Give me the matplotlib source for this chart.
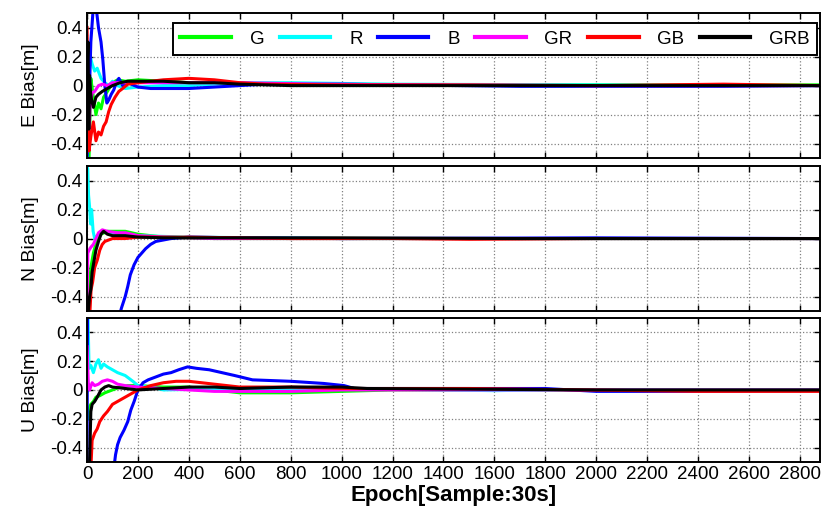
import matplotlib
matplotlib.use("Agg")
import matplotlib.pyplot as plt

plt.rcParams['font.family'] = ['Liberation Sans', 'DejaVu Sans']
plt.rcParams['axes.unicode_minus'] = False

nan = float('nan')

labels = ['G', 'R', 'B', 'GR', 'GB', 'GRB']
colors = ['#00ff00', '#00ffff', '#0000ff', '#ff00ff', '#ff0000', '#000000']
panel_names = ['E Bias[m]', 'N Bias[m]', 'U Bias[m]']

# E component: (epoch, bias) points
E_G_t = [0, 8, 15, 25, 35, 45, 55, 65, 80, 100, 120, 150, 200, 300, 400, 600, 800, 1200, 2000, 2880]
E_G_v = [-0.5, -0.5, 0.05, -0.08, -0.2, -0.12, -0.16, -0.08, -0.04, 0.02, 0.04, 0.03, 0.04, 0.03, 0.02, 0.01, 0.01, 0.005, 0.005, 0.005]
E_R_t = [0, 5, 10, 20, 30, 40, 55, 70, 85, 100, 120, 150, 200, 300, 400, 600, 800, 1200, 2000, 2880]
E_R_v = [-0.5, 0.1, 0.22, 0.15, 0.1, 0.12, 0.05, 0.02, 0.0, 0.03, 0.0, -0.02, -0.01, 0.0, 0.0, 0.02, 0.02, 0.01, 0.005, 0.0]
E_B_t = [0, 5, 15, 25, 35, 45, 55, 62, 70, 78, 85, 95, 105, 115, 125, 140, 160, 200, 250, 300, 400, 500, 700, 1000, 1700, 2500, 2880]
E_B_v = [-0.5, -0.3, 0.3, 0.55, 0.55, 0.4, 0.3, 0.18, 0.0, -0.12, -0.1, -0.06, -0.03, 0.02, 0.05, 0.0, 0.02, -0.01, -0.02, -0.02, -0.02, -0.01, 0.01, 0.01, -0.005, -0.005, 0.0]
E_GR_t = [0, 5, 12, 20, 30, 45, 60, 80, 100, 150, 200, 300, 400, 600, 900, 1300, 2000, 2880]
E_GR_v = [-0.45, -0.4, -0.15, -0.05, -0.04, 0.0, 0.01, 0.0, 0.02, 0.02, 0.02, 0.02, 0.02, 0.02, 0.01, 0.005, 0.0, 0.0]
E_GB_t = [0, 4, 8, 15, 25, 35, 45, 55, 65, 75, 85, 95, 110, 125, 140, 160, 200, 250, 300, 400, 500, 600, 700, 1000, 1500, 2000, 2500, 2880]
E_GB_v = [0.4, -0.1, -0.45, -0.35, -0.25, -0.38, -0.32, -0.34, -0.28, -0.25, -0.18, -0.13, -0.08, -0.04, -0.02, 0.01, 0.02, 0.03, 0.04, 0.05, 0.04, 0.02, 0.01, 0.005, 0.005, 0.0, 0.01, 0.0]
E_GRB_t = [0, 4, 7, 10, 14, 18, 25, 35, 45, 60, 80, 100, 130, 160, 200, 300, 400, 500, 600, 800, 1500, 2880]
E_GRB_v = [0.1, 0.3, -0.3, 0.07, -0.05, -0.1, -0.15, -0.08, -0.06, -0.04, -0.02, 0.0, 0.02, 0.03, 0.03, 0.03, 0.02, 0.02, 0.01, 0.0, 0.0, 0.0]

# N component
N_G_t = [0, 8, 15, 25, 40, 55, 80, 120, 150, 200, 300, 500, 1000, 2000, 2880]
N_G_v = [-0.5, -0.4, -0.2, -0.1, 0.0, 0.03, 0.05, 0.05, 0.05, 0.03, 0.01, 0.0, 0.0, 0.0, 0.0]
N_R_t = [0, 3, 6, 10, 14, 18, 24, 30, 40, 60, 100, 200, 400, 1000, 2000, 2880]
N_R_v = [0.5, 0.48, 0.3, 0.22, 0.1, 0.2, 0.05, 0.0, 0.02, 0.05, 0.04, 0.02, 0.01, 0.0, 0.0, 0.0]
N_B_t = [125, 135, 150, 160, 170, 185, 200, 215, 230, 250, 270, 300, 330, 400, 600, 1000, 2000, 2880]
N_B_v = [-0.55, -0.48, -0.4, -0.33, -0.25, -0.18, -0.13, -0.1, -0.07, -0.04, -0.02, -0.01, 0.0, 0.01, 0.005, 0.0, 0.005, 0.0]
N_GR_t = [0, 3, 8, 15, 25, 35, 45, 60, 80, 120, 150, 200, 300, 500, 1000, 2000, 2880]
N_GR_v = [-0.5, -0.1, -0.08, -0.06, -0.04, 0.0, 0.04, 0.06, 0.05, 0.04, 0.04, 0.02, 0.01, 0.0, 0.0, 0.0, 0.0]
N_GB_t = [10, 16, 22, 30, 40, 50, 60, 70, 85, 100, 150, 200, 400, 800, 1200, 1500, 2000, 2880]
N_GB_v = [-0.55, -0.35, -0.3, -0.2, -0.15, -0.08, -0.04, -0.02, -0.01, 0.0, 0.0, 0.01, 0.01, 0.0, 0.0, -0.005, 0.0, 0.0]
N_GRB_t = [0, 5, 10, 15, 20, 28, 35, 45, 55, 65, 80, 100, 150, 200, 300, 500, 1000, 1700, 2000, 2880]
N_GRB_v = [-0.5, -0.5, -0.4, -0.35, -0.23, -0.15, -0.08, -0.02, 0.03, 0.05, 0.03, 0.02, 0.02, 0.01, 0.005, 0.005, 0.005, 0.0, 0.0, 0.0]

# U component (nan = gap where the curve leaves the plot)
U_G_t = [5, 10, 15, 25, 35, 50, 70, 100, 130, 160, 200, 300, 400, 500, 600, 800, 1000, 1200, 2000, 2880]
U_G_v = [-0.2, -0.12, -0.1, -0.08, -0.05, -0.04, -0.02, 0.0, 0.02, 0.03, 0.03, 0.02, 0.02, 0.0, -0.02, -0.02, -0.01, 0.0, 0.0, 0.0]
U_R_t = [0, 4, 8, 15, 25, 35, 45, 55, 65, 80, 100, 120, 150, 180, 200, 250, 300, 600, 1000, 1600, 1800, 2880]
U_R_v = [0.5, 0.5, 0.15, 0.17, 0.12, 0.18, 0.21, 0.15, 0.18, 0.16, 0.14, 0.12, 0.1, 0.06, 0.03, 0.02, 0.0, 0.01, 0.01, -0.005, 0.0, 0.0]
U_B_t = [0, 2, 4, 6, 105, 112, 120, 130, 145, 160, 172, 185, 200, 220, 240, 270, 300, 330, 360, 395, 430, 480, 530, 580, 650, 800, 930, 1010, 1050, 1500, 1800, 2000, 2400, 2880]
U_B_v = [-0.5, 0.55, 0.55, nan, -0.55, -0.45, -0.38, -0.33, -0.28, -0.22, -0.14, -0.08, 0.0, 0.05, 0.07, 0.09, 0.11, 0.12, 0.14, 0.16, 0.15, 0.14, 0.12, 0.1, 0.07, 0.06, 0.045, 0.03, 0.01, 0.01, 0.01, -0.01, -0.01, -0.005]
U_GR_t = [0, 5, 10, 20, 30, 45, 60, 80, 100, 120, 150, 200, 300, 500, 600, 800, 1000, 2000, 2880]
U_GR_v = [0.3, 0.05, 0.0, 0.05, 0.03, 0.04, 0.06, 0.07, 0.06, 0.04, 0.03, 0.02, 0.01, -0.01, -0.01, -0.01, 0.0, 0.0, 0.0]
U_GB_t = [15, 20, 30, 40, 50, 65, 80, 100, 120, 150, 180, 200, 250, 300, 350, 400, 450, 500, 600, 800, 1000, 1500, 2400, 2880]
U_GB_v = [-0.55, -0.35, -0.3, -0.27, -0.22, -0.18, -0.15, -0.1, -0.08, -0.05, -0.02, 0.0, 0.03, 0.05, 0.06, 0.06, 0.05, 0.04, 0.02, 0.02, 0.01, 0.01, -0.01, -0.01]
U_GRB_t = [0, 10, 15, 20, 30, 40, 55, 70, 85, 100, 150, 200, 300, 400, 500, 600, 800, 1000, 1100, 2000, 2880]
U_GRB_v = [-0.55, -0.5, -0.15, -0.1, -0.08, -0.05, 0.0, 0.02, 0.03, 0.02, 0.01, 0.0, 0.01, 0.02, 0.02, 0.01, 0.02, 0.02, 0.01, 0.0, 0.0]

series = [
    [(E_G_t, E_G_v), (E_R_t, E_R_v), (E_B_t, E_B_v), (E_GR_t, E_GR_v), (E_GB_t, E_GB_v), (E_GRB_t, E_GRB_v)],
    [(N_G_t, N_G_v), (N_R_t, N_R_v), (N_B_t, N_B_v), (N_GR_t, N_GR_v), (N_GB_t, N_GB_v), (N_GRB_t, N_GRB_v)],
    [(U_G_t, U_G_v), (U_R_t, U_R_v), (U_B_t, U_B_v), (U_GR_t, U_GR_v), (U_GB_t, U_GB_v), (U_GRB_t, U_GRB_v)],
]

xticks = list(range(0, 2801, 200))
yticks = [-0.4, -0.2, 0, 0.2, 0.4]
ytick_labels = ['-0.4', '-0.2', '0', '0.2', '0.4']

fig = plt.figure(figsize=(8.21, 5.22), dpi=100)
rects = [[0.106, 0.697, 0.893, 0.278],
         [0.106, 0.404, 0.893, 0.278],
         [0.106, 0.115, 0.893, 0.276]]

axes = []
for i, r in enumerate(rects):
    ax = fig.add_axes(r)
    for (t, v), c, lab in zip(series[i], colors, labels):
        ax.plot(t, v, color=c, lw=2.2, label=lab)
    ax.set_xlim(0, 2880)
    ax.set_ylim(-0.5, 0.5)
    ax.set_xticks(xticks)
    ax.set_yticks(yticks)
    ax.set_yticklabels(ytick_labels)
    ax.grid(True, color='#808080', linestyle=':', lw=0.9)
    ax.tick_params(direction='in', top=True, right=True, length=4, width=1,
                   labelsize=13.5, pad=3)
    for s in ax.spines.values():
        s.set_linewidth(1.4)
    ax.set_ylabel(panel_names[i], fontsize=14, labelpad=8)
    if i < 2:
        ax.set_xticklabels([])
    axes.append(ax)

axes[2].set_xlabel('Epoch[Sample:30s]', fontsize=16, fontweight='bold', labelpad=1)

leg = axes[0].legend(loc='upper left', bbox_to_anchor=(0.117, 0.676, 0.879, 0.255),
                     mode='expand', ncol=6, fontsize=13.5, handlelength=2.7,
                     fancybox=False, framealpha=1, edgecolor='black',
                     borderaxespad=0, columnspacing=1.0, handletextpad=1.0)
leg.get_frame().set_linewidth(1.4)
for h in leg.get_lines():
    h.set_linewidth(3)

fig.savefig('out.png', dpi=100)
